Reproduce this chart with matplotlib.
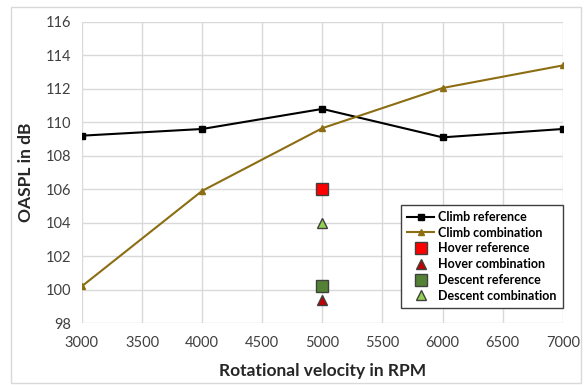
import matplotlib.pyplot as plt
from matplotlib.patches import Rectangle

plt.rcParams['font.family'] = ['Lato', 'DejaVu Sans']

rpm = [3000, 4000, 5000, 6000, 7000]
climb_ref = [109.2, 109.6, 110.8, 109.1, 109.6]
climb_comb = [100.2, 105.9, 109.65, 112.05, 113.4]
single_rpm = [5000]
hover_ref = [106.0]
hover_comb = [99.4]
descent_ref = [100.2]
descent_comb = [104.0]

fig = plt.figure(figsize=(5.85, 3.85), dpi=100)
ax = fig.add_axes([0.140, 0.161, 0.822, 0.782])
fig.patches.append(Rectangle((0.019, 0.005), 0.975, 0.977, transform=fig.transFigure,
                             fill=False, edgecolor='#d9d9d9', lw=1))

ax.plot(rpm, climb_ref, color='black', marker='s', ms=5, lw=1.5, label='Climb reference', zorder=3)
ax.plot(rpm, climb_comb, color='#8c6d12', marker='^', ms=5, lw=1.5, label='Climb combination', zorder=3)
ax.plot(single_rpm, hover_ref, ls='none', marker='s', ms=8, color='#ff0000', mec='#404040', label='Hover reference', zorder=4)
ax.plot(single_rpm, hover_comb, ls='none', marker='^', ms=7, color='#c00000', mec='#404040', label='Hover combination', zorder=4)
ax.plot(single_rpm, descent_ref, ls='none', marker='s', ms=8, color='#548235', mec='#404040', label='Descent reference', zorder=4)
ax.plot(single_rpm, descent_comb, ls='none', marker='^', ms=7, color='#92d050', mec='#404040', label='Descent combination', zorder=4)

ax.set_xlim(3000, 7000)
ax.set_ylim(98, 116)
ax.set_xticks(range(3000, 7001, 500))
ax.set_yticks(range(98, 117, 2))
ax.grid(True, color='#d9d9d9', lw=1)
ax.set_axisbelow(True)
for s in ax.spines.values():
    s.set_visible(False)
ax.tick_params(length=0, labelsize=10.5, pad=8, colors='#404040')
ax.tick_params(axis='x', pad=9)
ax.set_xlabel('Rotational velocity in RPM', fontsize=12.5, fontweight='bold', color='#262626', labelpad=10)
ax.set_ylabel('OASPL in dB', fontsize=12.5, fontweight='bold', color='#262626', labelpad=8)

leg = ax.legend(loc='lower right', bbox_to_anchor=(1.0, 0.05), prop={'weight': 'bold', 'size': 9},
                fancybox=False, framealpha=1, edgecolor='#404040', handlelength=2.2,
                labelspacing=0.3, borderpad=0.5, handletextpad=0.3, borderaxespad=0)
leg.get_frame().set_linewidth(1)

fig.savefig('out.png', dpi=100)
